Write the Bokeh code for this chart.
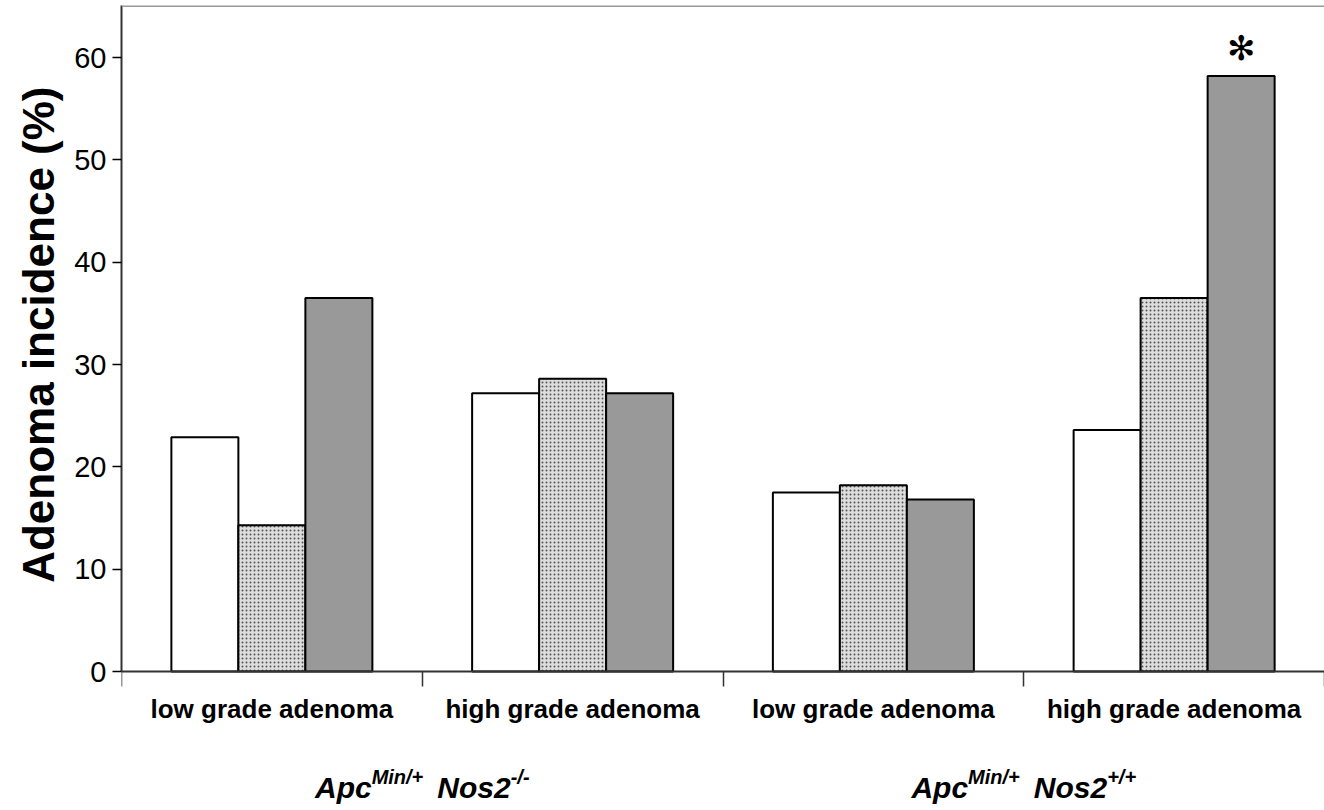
from bokeh.plotting import figure
from bokeh.models import Range1d, FixedTicker, Label, Span, ColumnDataSource
from bokeh.embed import file_html
from bokeh.resources import INLINE

# ---- data ----
categories = ["low grade adenoma", "high grade adenoma", "low grade adenoma", "high grade adenoma"]
series_a = [22.9, 27.2, 17.5, 23.6]   # white bars
series_b = [14.3, 28.6, 18.2, 36.5]   # stippled bars
series_c = [36.5, 27.2, 16.8, 58.2]   # gray bars
y_ticks = [0, 10, 20, 30, 40, 50, 60]
y_title = "Adenoma incidence (%)"
group_names = [("Apc", "Min/+", "Nos2", "-/-"), ("Apc", "Min/+", "Nos2", "+/+")]
star_index = 3

FONT = "Liberation Sans"
W, H = 1324, 810
ML, MT = 121, 5
PX_PER_UNIT = 10.233
ZERO_FROM_TOP = 666.0          # pixel distance of y=0 below the frame top
frame_w = W - ML
frame_h = H - MT
x_end = 4.0
group_px = frame_w / x_end
y_end = ZERO_FROM_TOP / PX_PER_UNIT
y_start = -(frame_h - ZERO_FROM_TOP) / PX_PER_UNIT

p = figure(width=W, height=H, output_backend="svg", toolbar_location=None,
           x_range=Range1d(0, x_end), y_range=Range1d(y_start, y_end),
           min_border_left=ML, min_border_right=0, min_border_top=MT, min_border_bottom=0)
p.outline_line_color = None
p.grid.visible = False
p.background_fill_color = "white"

centers = [i + 0.5 for i in range(len(categories))]
bw = 67.0 / group_px
src = ColumnDataSource(dict(xa=[c - bw for c in centers], xb=centers, xc=[c + bw for c in centers],
                            a=series_a, b=series_b, c=series_c))
p.vbar(x="xa", top="a", bottom=0, width=bw, source=src, fill_color="white",
       line_color="black", line_width=2)
p.vbar(x="xb", top="b", bottom=0, width=bw, source=src, fill_color="#dddddd",
       hatch_pattern="dot", hatch_scale=4, hatch_weight=2, hatch_color="#555555",
       line_color="black", line_width=2)
p.vbar(x="xc", top="c", bottom=0, width=bw, source=src, fill_color="#999999",
       line_color="black", line_width=2)

# top border
p.add_layout(Span(location=y_end, dimension="width", line_color="#999999", line_width=3))

# y axis
ya = p.yaxis[0]
ya.ticker = FixedTicker(ticks=y_ticks)
ya.bounds = (0, y_end)
ya.minor_tick_line_color = None
ya.major_tick_out = 9
ya.major_tick_in = 0
ya.major_tick_line_width = 1.5
ya.axis_line_width = 2
ya.axis_line_color = "#333333"
ya.major_label_text_font = FONT
ya.major_label_text_font_size = "29px"
ya.major_label_text_color = "black"
ya.major_label_standoff = 6
# non-breaking spaces lift the title so it is centred on the 0..65 part of the axis
ya.axis_label = "\u00a0" * 12 + y_title
ya.axis_label_text_font = FONT
ya.axis_label_text_font_style = "bold"
ya.axis_label_text_font_size = "44px"
ya.axis_label_text_color = "black"
ya.axis_label_standoff = 8

# x axis (drawn at y = 0)
xa = p.xaxis[0]
xa.fixed_location = 0
xa.ticker = FixedTicker(ticks=centers, minor_ticks=list(range(len(categories) + 1)))
xa.major_label_overrides = {c: t for c, t in zip(centers, categories)}
xa.major_tick_line_color = None
xa.major_tick_out = 0
xa.major_tick_in = 0
xa.minor_tick_out = 15
xa.minor_tick_in = 0
xa.minor_tick_line_width = 1.5
xa.minor_tick_line_color = "#333333"
xa.axis_line_width = 2
xa.axis_line_color = "#333333"
xa.major_label_text_font = FONT
xa.major_label_text_font_style = "bold"
xa.major_label_text_font_size = "26px"
xa.major_label_text_color = "black"
xa.major_label_standoff = 7

# group labels (bold italic, with superscripts)
wid = {"A": .722, "p": .611, "c": .556, "M": .833, "i": .278, "n": .611, "/": .278,
       "+": .584, "N": .722, "o": .611, "s": .556, "2": .556, "-": .333}
def tw(s, size):
    return sum(wid.get(ch, .55) for ch in s) * size

BIG, SMALL, GAP = 30, 20, 14
ybase = -116.0 / PX_PER_UNIT
for gi, parts in enumerate(group_names):
    cx = 2 * gi + 1
    segs = [(parts[0], BIG, 0, 0), (parts[1], SMALL, 11, 0), (parts[2], BIG, 0, GAP), (parts[3], SMALL, 11, 0)]
    total = sum(tw(s, sz) + g for s, sz, _, g in segs)
    off = -total / 2
    for s, sz, dy, g in segs:
        off += g
        p.add_layout(Label(x=cx, y=ybase, x_offset=off, y_offset=dy, text=s,
                           text_font=FONT, text_font_style="bold italic",
                           text_font_size=f"{sz}px", text_align="left",
                           text_baseline="alphabetic", text_color="black"))
        off += tw(s, sz)

# significance star
p.add_layout(Label(x=centers[star_index] + bw, y=series_c[star_index], y_offset=28, text="✻",
                   text_font="DejaVu Sans", text_font_size="34px", text_align="center",
                   text_baseline="middle", text_color="black"))

open("out.html", "w").write(file_html(p, INLINE))
